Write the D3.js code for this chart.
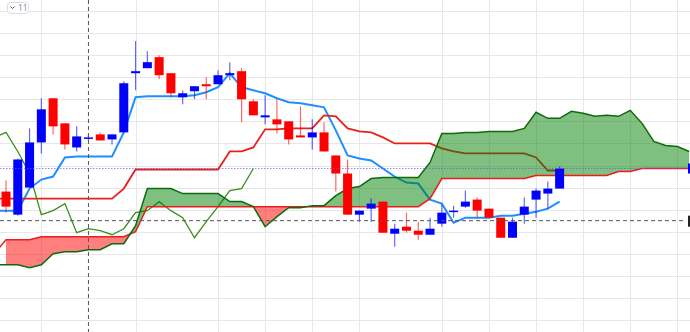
<!DOCTYPE html>
<html>
<head>
<meta charset="utf-8">
<script src="https://cdn.jsdelivr.net/npm/d3@7/dist/d3.min.js"></script>
<style>
  html, body { margin: 0; padding: 0; background: #fff; }
  svg { display: block; font-family: "Open Sans", "DejaVu Sans", sans-serif; }
</style>
</head>
<body>
<div id="chart"></div>
<script>
// candles, bar index 0..47
const opens  = [114.0, 111.7, 114.4, 118.9, 123.3, 120.8, 118.4, 119.35, 119.7, 119.2, 119.9, 125.8, 126.3, 127.4, 125.8, 123.4, 124.0, 124.7, 124.7, 125.6, 126.0, 123.0, 121.4, 121.2, 121.0, 119.6, 119.4, 119.9, 117.6, 115.8, 111.7, 112.3, 113.0, 109.8, 110.5, 110.1, 109.7, 110.8, 112.05, 112.5, 113.2, 112.3, 111.4, 109.4, 111.7, 113.2, 113.8, 114.3];
const highs  = [115.1, 117.3, 120.3, 123.3, 123.3, 120.8, 120.5, 119.7, 119.9, 119.7, 125.0, 129.0, 128.0, 127.6, 125.8, 124.1, 124.5, 125.4, 126.1, 126.9, 126.3, 123.2, 123.6, 123.2, 121.0, 122.5, 121.2, 120.9, 117.6, 117.2, 112.1, 113.3, 113.0, 110.8, 111.9, 111.0, 111.4, 112.7, 112.6, 114.1, 113.4, 112.3, 111.4, 111.4, 113.4, 114.3, 115.0, 116.5];
const lows   = [111.9, 111.6, 114.4, 117.8, 119.7, 118.2, 118.0, 119.1, 119.1, 118.7, 119.9, 124.1, 126.3, 125.2, 123.4, 122.7, 123.2, 123.2, 124.7, 125.1, 120.9, 121.6, 120.7, 119.8, 118.7, 119.4, 118.2, 118.0, 114.0, 111.7, 111.0, 111.0, 109.9, 108.5, 109.9, 109.2, 109.7, 110.5, 111.4, 112.4, 111.4, 111.4, 109.4, 109.4, 110.8, 111.4, 112.3, 114.3];
const closes = [112.5, 117.2, 118.9, 122.2, 120.5, 118.7, 119.5, 119.4, 119.1, 119.7, 124.8, 126.0, 126.9, 125.6, 123.8, 123.8, 124.5, 124.5, 125.6, 125.8, 123.2, 121.6, 121.6, 120.7, 119.2, 119.4, 119.9, 118.0, 115.8, 111.7, 112.1, 112.8, 109.9, 110.3, 110.1, 109.7, 110.3, 111.9, 112.1, 113.0, 112.1, 111.4, 109.4, 111.0, 112.5, 114.1, 114.3, 116.3];

// indicator lines start one bar left of the visible area
const lineStart = -1;
const tenkan = [112.1, 112.1, 112.1, 114.3, 115.2, 115.5, 117.4, 117.5, 117.5, 117.5, 117.5, 119.9, 123.4, 123.5, 123.5, 123.5, 123.5, 123.6, 123.9, 124.4, 125.8, 124.4, 124.1, 123.8, 123.3, 122.9, 122.8, 122.6, 122.4, 120.1, 117.6, 117.3, 117.1, 116.3, 115.5, 114.9, 114.8, 113.2, 112.8, 110.9, 111.4, 111.4, 111.4, 111.6, 111.6, 111.8, 112.0, 112.3, 113.0];
const kijun = [113.3, 113.3, 113.3, 113.3, 113.3, 113.3, 113.3, 113.3, 113.3, 113.3, 113.3, 114.3, 116.2, 116.2, 116.2, 116.2, 116.2, 116.2, 116.2, 116.2, 118.0, 118.0, 118.4, 120.2, 120.2, 120.3, 120.3, 120.3, 121.6, 121.5, 120.3, 120.0, 119.9, 119.4, 118.8, 118.8, 118.8, 118.8, 118.3, 118.0, 117.8, 117.8, 117.8, 117.8, 117.8, 117.8, 117.4, 116.1, 116.1];
const spanA = [106.7, 106.7, 106.7, 106.4, 106.7, 107.8, 108.0, 108.0, 108.2, 108.2, 108.8, 108.8, 110.6, 114.3, 114.3, 114.3, 113.8, 113.8, 113.8, 113.8, 113.0, 113.0, 112.5, 110.5, 111.5, 112.4, 112.4, 112.6, 112.6, 113.6, 114.3, 114.5, 115.3, 115.4, 115.4, 115.4, 115.4, 116.9, 119.8, 119.8, 119.9, 119.9, 120.0, 120.0, 120.0, 120.3, 121.9, 121.3, 121.3, 122.0, 121.8, 121.5, 121.6, 121.5, 122.1, 120.8, 119.0, 118.6, 118.5, 118.0];
const spanB = [107.8, 109.2, 109.2, 109.2, 109.5, 109.5, 109.5, 109.5, 109.5, 109.5, 109.5, 109.5, 110.0, 112.5, 112.5, 112.5, 112.5, 112.5, 112.5, 112.5, 112.5, 112.5, 112.5, 112.5, 112.5, 112.5, 112.5, 112.5, 112.5, 112.5, 112.5, 112.5, 112.5, 112.5, 112.5, 112.5, 112.5, 113.3, 115.3, 115.3, 115.3, 115.3, 115.3, 115.3, 115.3, 115.3, 115.6, 115.6, 115.6, 115.6, 115.6, 115.6, 115.6, 116.0, 116.0, 116.3, 116.3, 116.3, 116.3, 116.3];
const cloudFillStart = 0;
const chikouShift = 26;

const gridPrices = [132, 129.8, 127.6, 125.4, 123.2, 121, 118.8, 116.6, 114.4, 112.2, 110, 107.8, 105.6, 103.4, 101.2];
const gridBars = [3, 11, 18, 22, 26, 30, 37, 41, 45, 49, 53, 57];
const crossBar = 7;
const crossPrice = 111.1;
const intervalLabel = '11';

const W = 690, H = 332;
const svg = d3.select('#chart').append('svg').attr('width', W).attr('height', H);

const x = d3.scaleLinear().domain([-0.51, 58.07]).range([0, W]);
const y = d3.scaleLinear().domain([101.2, 132]).range([320, 11]);

// grid
svg.append('g').selectAll('line').data(gridPrices).join('line')
  .attr('x1', 0).attr('x2', W)
  .attr('y1', d => Math.round(y(d)) + 0.5).attr('y2', d => Math.round(y(d)) + 0.5)
  .attr('stroke', '#e7e7ea').attr('stroke-width', 1);
svg.append('g').selectAll('line').data(gridBars).join('line')
  .attr('x1', d => Math.round(x(d)) + 0.5).attr('x2', d => Math.round(x(d)) + 0.5)
  .attr('y1', 0).attr('y2', H)
  .attr('stroke', '#e7e7ea').attr('stroke-width', 1);

const toPoints = (arr, start) => arr.map((v, k) => [start + k, v]);
const line = d3.line().x(d => x(d[0])).y(d => y(d[1]));

// lagging span: closes drawn 26 bars back
const chikou = closes.map((c, i) => [i - chikouShift, c]).filter(d => d[0] >= lineStart);

svg.append('path').datum(toPoints(tenkan, lineStart))
  .attr('fill', 'none').attr('stroke', '#1e8fff').attr('stroke-width', 2).attr('d', line);
svg.append('path').datum(toPoints(kijun, lineStart))
  .attr('fill', 'none').attr('stroke', '#e8201c').attr('stroke-width', 1.8).attr('d', line);
svg.append('path').datum(chikou)
  .attr('fill', 'none').attr('stroke', '#3a8f1a').attr('stroke-width', 1.3).attr('d', line);

// cloud
const cloud = spanA.map((a, k) => ({ i: lineStart + k, a, b: spanB[k] }))
  .filter(d => d.i >= cloudFillStart);
const band = d3.area().x(d => x(d.i)).y0(d => y(d.a)).y1(d => y(d.b));
const defs = svg.append('defs');
defs.append('clipPath').attr('id', 'aboveB').append('path').datum(cloud)
  .attr('d', d3.area().x(d => x(d.i)).y0(0).y1(d => y(d.b)));
defs.append('clipPath').attr('id', 'belowB').append('path').datum(cloud)
  .attr('d', d3.area().x(d => x(d.i)).y0(H).y1(d => y(d.b)));
svg.append('path').datum(cloud).attr('d', band)
  .attr('fill', 'rgba(0,128,0,0.5)').attr('clip-path', 'url(#aboveB)');
svg.append('path').datum(cloud).attr('d', band)
  .attr('fill', 'rgba(255,0,0,0.5)').attr('clip-path', 'url(#belowB)');

svg.append('path').datum(toPoints(spanB, lineStart))
  .attr('fill', 'none').attr('stroke', '#ee1c1c').attr('stroke-width', 1.5).attr('d', line);
svg.append('path').datum(toPoints(spanA, lineStart))
  .attr('fill', 'none').attr('stroke', '#0d6b0d').attr('stroke-width', 1.5).attr('d', line);

// candles
const candles = opens.map((o, i) => ({ i, o, h: highs[i], l: lows[i], c: closes[i] }));
const colour = d => d.c >= d.o ? '#0000ff' : '#ff0000';
const cg = svg.append('g');
cg.selectAll('line').data(candles).join('line')
  .attr('x1', d => x(d.i)).attr('x2', d => x(d.i))
  .attr('y1', d => y(d.h)).attr('y2', d => y(d.l))
  .attr('stroke', colour).attr('stroke-opacity', 0.6).attr('stroke-width', 1.2);
cg.selectAll('rect').data(candles).join('rect')
  .attr('x', d => x(d.i) - 4.5).attr('width', 9)
  .attr('y', d => y(Math.max(d.o, d.c)))
  .attr('height', d => Math.max(1.5, Math.abs(y(d.o) - y(d.c))))
  .attr('fill', colour);

// last price line + crosshair
const lastY = y(closes[closes.length - 1]);
svg.append('line').attr('x1', 0).attr('x2', W).attr('y1', lastY).attr('y2', lastY)
  .attr('stroke', '#5a5aff').attr('stroke-opacity', 0.7).attr('stroke-width', 1)
  .attr('stroke-dasharray', '1.5,1.5');
svg.append('line').attr('x1', x(crossBar)).attr('x2', x(crossBar)).attr('y1', 0).attr('y2', H)
  .attr('stroke', '#555').attr('stroke-width', 1).attr('stroke-dasharray', '4,3');
svg.append('line').attr('x1', 0).attr('x2', 686).attr('y1', y(crossPrice)).attr('y2', y(crossPrice))
  .attr('stroke', '#555').attr('stroke-width', 1).attr('stroke-dasharray', '4,3');
svg.append('rect').attr('x', 688).attr('y', lastY - 5).attr('width', 30).attr('height', 10).attr('fill', '#0000ff');
svg.append('rect').attr('x', 688).attr('y', y(crossPrice) - 5).attr('width', 30).attr('height', 11).attr('fill', '#222');

// interval button
const btn = svg.append('g').attr('transform', 'translate(7,2)');
btn.append('rect').attr('x', 0.5).attr('y', 0.5).attr('width', 21).attr('height', 11).attr('rx', 3)
  .attr('fill', '#fff').attr('stroke', '#dcdcdc');
btn.append('path').attr('d', 'M3.5,4.5 L5.5,6.5 L7.5,4.5').attr('fill', 'none')
  .attr('stroke', '#555').attr('stroke-width', 1);
btn.append('text').attr('x', 11).attr('y', 9).attr('font-size', 8.5).attr('fill', '#7a86a8')
  .text(intervalLabel);
</script>
</body>
</html>
